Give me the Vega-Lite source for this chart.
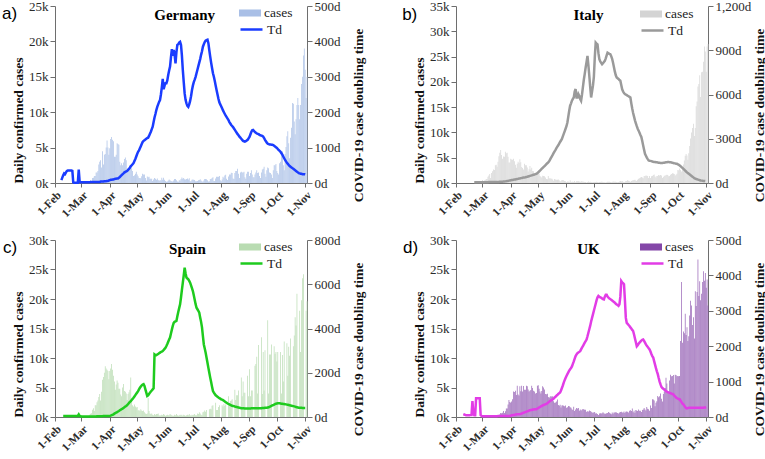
{
"$schema":"https://vega.github.io/schema/vega-lite/v6.json",
"padding":{"left":2,"top":0,"right":0,"bottom":0},
"columns":2,
"spacing":{"column":37,"row":14},
"resolve":{"scale":{"fill":"independent","stroke":"independent"}},
"config":{"view":{"stroke":null},"font":"Liberation Serif",
"axis":{"grid":false,"labelOverlap":false,"tickCount":50,"domainColor":"#6e6e6e","tickColor":"#6e6e6e","tickSize":5,"labelFont":"Liberation Serif","labelFontSize":13,"labelColor":"#2b2b2b","labelPadding":2,"titleFont":"Liberation Serif","titleFontSize":13.5,"titleFontWeight":"bold","titleColor":"#111"},
"axisX":{"labelAngle":-45,"labelFontWeight":"bold","labelFontSize":11.5,"tickSize":4},
"legend":{"labelFont":"Liberation Serif","labelFontSize":13.5,"labelColor":"#222"}},
"datasets":{
"de":[{"d":7,"t":8},{"d":8,"t":15},{"d":9,"t":22},{"d":10,"t":27},{"d":11,"t":25},{"d":12,"t":30},{"d":13,"t":34},{"d":14,"t":35},{"d":15,"t":35},{"d":16,"t":35},{"d":17,"t":35},{"d":18,"t":35},{"d":19,"t":34},{"d":20,"t":2},{"d":21,"t":1},{"d":22,"t":1},{"d":23,"t":1},{"d":24,"t":1},{"d":25,"t":1},{"d":26,"t":38},{"d":27,"t":3},{"d":28,"t":2},
{"d":29,"n":60,"t":2},{"d":30,"n":30,"t":2},{"d":31,"n":160,"t":2},{"d":32,"n":50,"t":2},{"d":33,"n":110,"t":2},{"d":34,"n":240,"t":2},{"d":35,"n":100,"t":2},{"d":36,"n":180,"t":2},{"d":37,"n":120,"t":2},{"d":38,"n":270,"t":2},{"d":39,"n":400,"t":3},{"d":40,"n":260,"t":3},{"d":41,"n":700,"t":3},{"d":42,"n":740,"t":3},{"d":43,"n":1000,"t":3},{"d":44,"n":1000,"t":3},{"d":45,"n":1500,"t":3},{"d":46,"n":1500,"t":3},{"d":47,"n":1700,"t":3},{"d":48,"n":2600,"t":3},{"d":49,"n":3000,"t":3},{"d":50,"n":3200,"t":4},{"d":51,"n":2200,"t":4},{"d":52,"n":4500,"t":4},{"d":53,"n":2600,"t":4},{"d":54,"n":4000,"t":5},{"d":55,"n":4100,"t":5},{"d":56,"n":5000,"t":5},{"d":57,"n":6000,"t":6},{"d":58,"n":5000,"t":6},{"d":59,"n":4000,"t":7},{"d":60,"n":4900,"t":8},{"d":61,"n":6200,"t":9},{"d":62,"n":6500,"t":9},{"d":63,"n":6100,"t":10},{"d":64,"n":5900,"t":10},{"d":65,"n":3700,"t":11},{"d":66,"n":3700,"t":12},{"d":67,"n":4000,"t":12},{"d":68,"n":5600,"t":13},{"d":69,"n":5500,"t":13},{"d":70,"n":5400,"t":15},{"d":71,"n":3000,"t":17},{"d":72,"n":2500,"t":20},{"d":73,"n":2800,"t":22},{"d":74,"n":2500,"t":25},{"d":75,"n":2900,"t":27},{"d":76,"n":3400,"t":30},{"d":77,"n":3600,"t":31},{"d":78,"n":3200,"t":33},{"d":79,"n":1700,"t":34},{"d":80,"n":1800,"t":37},{"d":81,"n":2200,"t":40},{"d":82,"n":2500,"t":43},{"d":83,"n":2400,"t":47},{"d":84,"n":2100,"t":50},{"d":85,"n":1700,"t":53},{"d":86,"n":1000,"t":56},{"d":87,"n":1100,"t":62},{"d":88,"n":1300,"t":68},{"d":89,"n":1600,"t":75},{"d":90,"n":1200,"t":82},{"d":91,"n":950,"t":88},{"d":92,"n":700,"t":92},{"d":93,"n":700,"t":98},{"d":94,"n":680,"t":104},{"d":95,"n":950,"t":110},{"d":96,"n":1300,"t":116},{"d":97,"n":1200,"t":119},{"d":98,"n":1200,"t":121},{"d":99,"n":700,"t":123},{"d":100,"n":350,"t":125},{"d":101,"n":930,"t":127},{"d":102,"n":800,"t":128},{"d":103,"n":900,"t":133},{"d":104,"n":600,"t":139},{"d":105,"n":600,"t":145},{"d":106,"n":600,"t":152},{"d":107,"n":300,"t":159},{"d":108,"n":500,"t":172},{"d":109,"n":700,"t":185},{"d":110,"n":600,"t":195},{"d":111,"n":460,"t":206},{"d":112,"n":630,"t":215},{"d":113,"n":430,"t":222},{"d":114,"n":290,"t":229},{"d":115,"n":430,"t":234},{"d":116,"n":360,"t":250},{"d":117,"n":750,"t":270},{"d":118,"n":470,"t":294},{"d":119,"n":740,"t":265},{"d":120,"n":460,"t":275},{"d":121,"n":290,"t":282},{"d":122,"n":180,"t":282},{"d":123,"n":210,"t":290},{"d":124,"n":340,"t":305},{"d":125,"n":500,"t":318},{"d":126,"n":400,"t":329},{"d":127,"n":300,"t":355},{"d":128,"n":250,"t":378},{"d":129,"n":200,"t":359},{"d":130,"n":350,"t":376},{"d":131,"n":550,"t":362},{"d":132,"n":550,"t":338},{"d":133,"n":400,"t":370},{"d":134,"n":200,"t":390},{"d":135,"n":180,"t":392},{"d":136,"n":380,"t":397},{"d":137,"n":340,"t":399},{"d":138,"n":580,"t":390},{"d":139,"n":770,"t":360},{"d":140,"n":600,"t":319},{"d":141,"n":690,"t":285},{"d":142,"n":540,"t":253},{"d":143,"n":500,"t":235},{"d":144,"n":580,"t":225},{"d":145,"n":630,"t":218},{"d":146,"n":480,"t":215},{"d":147,"n":680,"t":222},{"d":148,"n":260,"t":232},{"d":149,"n":260,"t":245},{"d":150,"n":470,"t":262},{"d":151,"n":500,"t":275},{"d":152,"n":450,"t":285},{"d":153,"n":420,"t":292},{"d":154,"n":240,"t":300},{"d":155,"n":230,"t":310},{"d":156,"n":300,"t":320},{"d":157,"n":400,"t":330},{"d":158,"n":440,"t":340},{"d":159,"n":530,"t":350},{"d":160,"n":370,"t":362},{"d":161,"n":250,"t":372},{"d":162,"n":160,"t":385},{"d":163,"n":350,"t":392},{"d":164,"n":550,"t":398},{"d":165,"n":580,"t":402},{"d":166,"n":530,"t":404},{"d":167,"n":400,"t":405},{"d":168,"n":210,"t":395},{"d":169,"n":250,"t":375},{"d":170,"n":550,"t":357},{"d":171,"n":580,"t":340},{"d":172,"n":700,"t":325},{"d":173,"n":800,"t":310},{"d":174,"n":300,"t":300},{"d":175,"n":300,"t":288},{"d":176,"n":630,"t":275},{"d":177,"n":900,"t":262},{"d":178,"n":900,"t":250},{"d":179,"n":900,"t":238},{"d":180,"n":1000,"t":228},{"d":181,"n":380,"t":222},{"d":182,"n":250,"t":217},{"d":183,"n":500,"t":211},{"d":184,"n":900,"t":205},{"d":185,"n":740,"t":200},{"d":186,"n":1050,"t":195},{"d":187,"n":1150,"t":190},{"d":188,"n":600,"t":186},{"d":189,"n":440,"t":182},{"d":190,"n":930,"t":178},{"d":191,"n":1200,"t":172},{"d":192,"n":1200,"t":168},{"d":193,"n":1450,"t":164},{"d":194,"n":1400,"t":161},{"d":195,"n":630,"t":158},{"d":196,"n":560,"t":154},{"d":197,"n":1400,"t":150},{"d":198,"n":1700,"t":146},{"d":199,"n":1700,"t":142},{"d":200,"n":2000,"t":138},{"d":201,"n":1300,"t":135},{"d":202,"n":700,"t":131},{"d":203,"n":1500,"t":128},{"d":204,"n":1600,"t":125},{"d":205,"n":1500,"t":122},{"d":206,"n":1500,"t":119},{"d":207,"n":1600,"t":118},{"d":208,"n":800,"t":117},{"d":209,"n":600,"t":118},{"d":210,"n":1300,"t":120},{"d":211,"n":1600,"t":122},{"d":212,"n":1600,"t":126},{"d":213,"n":1000,"t":130},{"d":214,"n":1400,"t":137},{"d":215,"n":1800,"t":144},{"d":216,"n":1200,"t":149},{"d":217,"n":800,"t":150},{"d":218,"n":800,"t":147},{"d":219,"n":1200,"t":144},{"d":220,"n":1500,"t":142},{"d":221,"n":1800,"t":140},{"d":222,"n":1400,"t":139},{"d":223,"n":1500,"t":138},{"d":224,"n":1000,"t":136},{"d":225,"n":700,"t":135},{"d":226,"n":1500,"t":134},{"d":227,"n":1900,"t":133},{"d":228,"n":2000,"t":131},{"d":229,"n":2300,"t":127},{"d":230,"n":1300,"t":122},{"d":231,"n":900,"t":118},{"d":232,"n":1800,"t":114},{"d":233,"n":2200,"t":111},{"d":234,"n":2100,"t":110},{"d":235,"n":1500,"t":109},{"d":236,"n":1400,"t":109},{"d":237,"n":1200,"t":108},{"d":238,"n":700,"t":108},{"d":239,"n":1800,"t":107},{"d":240,"n":2500,"t":105},{"d":241,"n":2500,"t":103},{"d":242,"n":2700,"t":101},{"d":243,"n":1700,"t":99},{"d":244,"n":1400,"t":96},{"d":245,"n":1200,"t":93},{"d":246,"n":2800,"t":91},{"d":247,"n":3000,"t":88},{"d":248,"n":4000,"t":84},{"d":249,"n":4500,"t":80},{"d":250,"n":2500,"t":75},{"d":251,"n":1800,"t":70},{"d":252,"n":4100,"t":65},{"d":253,"n":5100,"t":61},{"d":254,"n":6600,"t":57},{"d":255,"n":7300,"t":54},{"d":256,"n":5600,"t":51},{"d":257,"n":3500,"t":48},{"d":258,"n":6400,"t":46},{"d":259,"n":7800,"t":44},{"d":260,"n":11300,"t":42},{"d":261,"n":11200,"t":40},{"d":262,"n":8700,"t":38},{"d":263,"n":6900,"t":36},{"d":264,"n":9000,"t":34},{"d":265,"n":11000,"t":32},{"d":266,"n":12000,"t":30},{"d":267,"n":11000,"t":28},{"d":268,"n":9000,"t":27},{"d":269,"n":11000,"t":26},{"d":270,"n":14000,"t":26},{"d":271,"n":15000,"t":25},{"d":272,"n":18000,"t":25},{"d":273,"n":19000,"t":25},{"d":274,"n":16000,"t":24},{"d":275,"n":12000},{"d":276,"n":15000}],
"it":[{"d":20,"n":20,"t":5},{"d":21,"n":60,"t":5},{"d":22,"n":80,"t":5},{"d":23,"n":60,"t":5},{"d":24,"n":80,"t":5},{"d":25,"n":90,"t":5},{"d":26,"n":120,"t":5},{"d":27,"n":240,"t":5},{"d":28,"n":240,"t":5},{"d":29,"n":570,"t":5},{"d":30,"n":340,"t":5},{"d":31,"n":470,"t":5},{"d":32,"n":590,"t":5},{"d":33,"n":770,"t":5},{"d":34,"n":780,"t":5},{"d":35,"n":1250,"t":5},{"d":36,"n":1490,"t":6},{"d":37,"n":1800,"t":6},{"d":38,"n":980,"t":6},{"d":39,"n":2000,"t":6},{"d":40,"n":2300,"t":6},{"d":41,"n":2650,"t":6},{"d":42,"n":2550,"t":6},{"d":43,"n":3500,"t":6},{"d":44,"n":3600,"t":6},{"d":45,"n":3200,"t":6},{"d":46,"n":4200,"t":7},{"d":47,"n":5300,"t":7},{"d":48,"n":6000,"t":8},{"d":49,"n":6550,"t":8},{"d":50,"n":5550,"t":9},{"d":51,"n":4800,"t":9},{"d":52,"n":5250,"t":10},{"d":53,"n":5200,"t":10},{"d":54,"n":6200,"t":11},{"d":55,"n":5900,"t":12},{"d":56,"n":5970,"t":13},{"d":57,"n":5200,"t":14},{"d":58,"n":4050,"t":16},{"d":59,"n":4050,"t":17},{"d":60,"n":4780,"t":18},{"d":61,"n":4670,"t":20},{"d":62,"n":4590,"t":21},{"d":63,"n":4800,"t":22},{"d":64,"n":4300,"t":23},{"d":65,"n":3600,"t":24},{"d":66,"n":3040,"t":26},{"d":67,"n":3830,"t":27},{"d":68,"n":4200,"t":28},{"d":69,"n":3950,"t":30},{"d":70,"n":4700,"t":31},{"d":71,"n":4100,"t":33},{"d":72,"n":3150,"t":34},{"d":73,"n":2970,"t":36},{"d":74,"n":2670,"t":37},{"d":75,"n":3790,"t":38},{"d":76,"n":3490,"t":39},{"d":77,"n":3490,"t":41},{"d":78,"n":3050,"t":42},{"d":79,"n":2250,"t":44},{"d":80,"n":2730,"t":46},{"d":81,"n":3370,"t":48},{"d":82,"n":2650,"t":50},{"d":83,"n":3020,"t":52},{"d":84,"n":2360,"t":54},{"d":85,"n":2320,"t":56},{"d":86,"n":1740,"t":58},{"d":87,"n":2090,"t":60},{"d":88,"n":2090,"t":62},{"d":89,"n":1870,"t":66},{"d":90,"n":1960,"t":72},{"d":91,"n":1900,"t":78},{"d":92,"n":1390,"t":84},{"d":93,"n":1220,"t":90},{"d":94,"n":1080,"t":97},{"d":95,"n":1440,"t":103},{"d":96,"n":1400,"t":109},{"d":97,"n":1330,"t":115},{"d":98,"n":1080,"t":121},{"d":99,"n":800,"t":128},{"d":100,"n":740,"t":134},{"d":101,"n":1400,"t":140},{"d":102,"n":890,"t":148},{"d":103,"n":990,"t":158},{"d":104,"n":790,"t":170},{"d":105,"n":880,"t":181},{"d":106,"n":680,"t":192},{"d":107,"n":450,"t":204},{"d":108,"n":810,"t":215},{"d":109,"n":670,"t":225},{"d":110,"n":640,"t":236},{"d":111,"n":650,"t":246},{"d":112,"n":670,"t":256},{"d":113,"n":530,"t":267},{"d":114,"n":300,"t":278},{"d":115,"n":400,"t":288},{"d":116,"n":580,"t":299},{"d":117,"n":590,"t":316},{"d":118,"n":520,"t":333},{"d":119,"n":420,"t":350},{"d":120,"n":350,"t":368},{"d":121,"n":180,"t":385},{"d":122,"n":320,"t":410},{"d":123,"n":320,"t":450},{"d":124,"n":180,"t":490},{"d":125,"n":520,"t":524},{"d":126,"n":270,"t":540},{"d":127,"n":200,"t":558},{"d":128,"n":280,"t":570},{"d":129,"n":200,"t":580},{"d":130,"n":380,"t":620},{"d":131,"n":160,"t":637},{"d":132,"n":350,"t":580},{"d":133,"n":340,"t":580},{"d":134,"n":340,"t":603},{"d":135,"n":300,"t":590},{"d":136,"n":210,"t":570},{"d":137,"n":330,"t":558},{"d":138,"n":330,"t":600},{"d":139,"n":250,"t":650},{"d":140,"n":260,"t":700},{"d":141,"n":220,"t":740},{"d":142,"n":220,"t":783},{"d":143,"n":110,"t":820},{"d":144,"n":190,"t":862},{"d":145,"n":300,"t":800},{"d":146,"n":180,"t":727},{"d":147,"n":260,"t":650},{"d":148,"n":180,"t":580},{"d":149,"n":170,"t":620},{"d":150,"n":140,"t":660},{"d":151,"n":180,"t":720},{"d":152,"n":200,"t":850},{"d":153,"n":220,"t":952},{"d":154,"n":240,"t":945},{"d":155,"n":190,"t":940},{"d":156,"n":140,"t":880},{"d":157,"n":190,"t":839},{"d":158,"n":190,"t":825},{"d":159,"n":230,"t":815},{"d":160,"n":270,"t":805},{"d":161,"n":190,"t":812},{"d":162,"n":170,"t":820},{"d":163,"n":130,"t":828},{"d":164,"n":110,"t":845},{"d":165,"n":160,"t":865},{"d":166,"n":230,"t":884},{"d":167,"n":230,"t":880},{"d":168,"n":250,"t":876},{"d":169,"n":220,"t":873},{"d":170,"n":130,"t":860},{"d":171,"n":190,"t":842},{"d":172,"n":280,"t":815},{"d":173,"n":250,"t":785},{"d":174,"n":270,"t":755},{"d":175,"n":250,"t":730},{"d":176,"n":200,"t":715},{"d":177,"n":170,"t":710},{"d":178,"n":210,"t":705},{"d":179,"n":290,"t":698},{"d":180,"n":380,"t":693},{"d":181,"n":290,"t":665},{"d":182,"n":380,"t":635},{"d":183,"n":240,"t":620},{"d":184,"n":160,"t":610},{"d":185,"n":190,"t":603},{"d":186,"n":380,"t":600},{"d":187,"n":400,"t":596},{"d":188,"n":550,"t":592},{"d":189,"n":460,"t":588},{"d":190,"n":350,"t":584},{"d":191,"n":260,"t":580},{"d":192,"n":410,"t":540},{"d":193,"n":480,"t":505},{"d":194,"n":520,"t":475},{"d":195,"n":570,"t":450},{"d":196,"n":630,"t":425},{"d":197,"n":480,"t":405},{"d":198,"n":400,"t":385},{"d":199,"n":640,"t":368},{"d":200,"n":850,"t":355},{"d":201,"n":950,"t":340},{"d":202,"n":1070,"t":325},{"d":203,"n":1210,"t":312},{"d":204,"n":1070,"t":285},{"d":205,"n":950,"t":255},{"d":206,"n":1370,"t":225},{"d":207,"n":1400,"t":198},{"d":208,"n":1460,"t":185},{"d":209,"n":1440,"t":172},{"d":210,"n":1360,"t":162},{"d":211,"n":1000,"t":153},{"d":212,"n":1360,"t":151},{"d":213,"n":980,"t":150},{"d":214,"n":1330,"t":148},{"d":215,"n":1400,"t":146},{"d":216,"n":1600,"t":144},{"d":217,"n":1700,"t":143},{"d":218,"n":1300,"t":142},{"d":219,"n":1100,"t":141},{"d":220,"n":1400,"t":140},{"d":221,"n":1400,"t":139},{"d":222,"n":1600,"t":138},{"d":223,"n":1500,"t":137},{"d":224,"n":1600,"t":136},{"d":225,"n":1500,"t":135},{"d":226,"n":1000,"t":136},{"d":227,"n":1200,"t":137},{"d":228,"n":1450,"t":138},{"d":229,"n":1450,"t":139},{"d":230,"n":1600,"t":140},{"d":231,"n":1640,"t":141},{"d":232,"n":1590,"t":142},{"d":233,"n":1350,"t":142},{"d":234,"n":1390,"t":141},{"d":235,"n":1640,"t":140},{"d":236,"n":1790,"t":139},{"d":237,"n":1910,"t":137},{"d":238,"n":1870,"t":136},{"d":239,"n":1770,"t":134},{"d":240,"n":1490,"t":133},{"d":241,"n":1650,"t":131},{"d":242,"n":1850,"t":130},{"d":243,"n":2550,"t":127},{"d":244,"n":2500,"t":123},{"d":245,"n":2850,"t":118},{"d":246,"n":2580,"t":113},{"d":247,"n":2260,"t":108},{"d":248,"n":2680,"t":102},{"d":249,"n":3680,"t":96},{"d":250,"n":4460,"t":90},{"d":251,"n":5370,"t":84},{"d":252,"n":5720,"t":78},{"d":253,"n":5460,"t":72},{"d":254,"n":4620,"t":67},{"d":255,"n":5900,"t":63},{"d":256,"n":7330,"t":58},{"d":257,"n":8800,"t":53},{"d":258,"n":10000,"t":48},{"d":259,"n":10900,"t":43},{"d":260,"n":11700,"t":38},{"d":261,"n":9300,"t":33},{"d":262,"n":10900,"t":29},{"d":263,"n":15200,"t":27},{"d":264,"n":16100,"t":25},{"d":265,"n":19100,"t":23},{"d":266,"n":19600,"t":21},{"d":267,"n":21300,"t":19},{"d":268,"n":17000,"t":17},{"d":269,"n":21900,"t":16},{"d":270,"n":22000,"t":15},{"d":271,"n":24000,"t":14},{"d":272,"n":27000,"t":14},{"d":273,"n":26000,"t":13},{"d":274,"n":22000},{"d":275,"n":27000},{"d":276,"n":27500}],
"es":[{"d":9,"t":5},{"d":10,"t":5},{"d":11,"t":5},{"d":12,"t":5},{"d":13,"t":5},{"d":14,"t":5},{"d":15,"t":5},{"d":16,"t":5},{"d":17,"t":5},{"d":18,"t":5},{"d":19,"t":5},{"d":20,"t":5},{"d":21,"t":5},{"d":22,"t":5},{"d":23,"t":5},{"d":24,"t":5},{"d":25,"t":5},{"d":26,"t":12},{"d":27,"t":5},{"d":28,"t":3},
{"d":29,"n":40,"t":2},{"d":30,"n":30,"t":2},{"d":31,"n":50,"t":2},{"d":32,"n":60,"t":2},{"d":33,"n":80,"t":2},{"d":34,"n":120,"t":2},{"d":35,"n":150,"t":2},{"d":36,"n":180,"t":2},{"d":37,"n":230,"t":2},{"d":38,"n":400,"t":2},{"d":39,"n":550,"t":2},{"d":40,"n":650,"t":2},{"d":41,"n":1250,"t":2},{"d":42,"n":1500,"t":2},{"d":43,"n":1000,"t":2},{"d":44,"n":2000,"t":2},{"d":45,"n":2000,"t":2},{"d":46,"n":2500,"t":3},{"d":47,"n":2800,"t":3},{"d":48,"n":3400,"t":3},{"d":49,"n":3900,"t":3},{"d":50,"n":2800,"t":3},{"d":51,"n":4300,"t":3},{"d":52,"n":6300,"t":3},{"d":53,"n":6800,"t":4},{"d":54,"n":7500,"t":4},{"d":55,"n":8600,"t":4},{"d":56,"n":8200,"t":4},{"d":57,"n":8000,"t":4},{"d":58,"n":7800,"t":4},{"d":59,"n":6400,"t":4},{"d":60,"n":7800,"t":5},{"d":61,"n":8200,"t":6},{"d":62,"n":9000,"t":8},{"d":63,"n":8000,"t":10},{"d":64,"n":7000,"t":12},{"d":65,"n":6000,"t":15},{"d":66,"n":4600,"t":17},{"d":67,"n":5500,"t":20},{"d":68,"n":6200,"t":22},{"d":69,"n":5800,"t":25},{"d":70,"n":4800,"t":27},{"d":71,"n":4800,"t":30},{"d":72,"n":3800,"t":33},{"d":73,"n":3500,"t":36},{"d":74,"n":5000,"t":38},{"d":75,"n":5600,"t":41},{"d":76,"n":4400,"t":44},{"d":77,"n":4300,"t":47},{"d":78,"n":4000,"t":50},{"d":79,"n":2900,"t":54},{"d":80,"n":3900,"t":58},{"d":81,"n":4200,"t":63},{"d":82,"n":4600,"t":68},{"d":83,"n":6700,"t":72},{"d":84,"n":3000,"t":77},{"d":85,"n":2000,"t":82},{"d":86,"n":1800,"t":87},{"d":87,"n":2100,"t":93},{"d":88,"n":1800,"t":99},{"d":89,"n":1600,"t":105},{"d":90,"n":1700,"t":111},{"d":91,"n":1100,"t":117},{"d":92,"n":1200,"t":125},{"d":93,"n":1000,"t":132},{"d":94,"n":1300,"t":138},{"d":95,"n":1100,"t":143},{"d":96,"n":1000,"t":146},{"d":97,"n":1100,"t":148},{"d":98,"n":800,"t":140},{"d":99,"n":600,"t":125},{"d":100,"n":500,"t":110},{"d":101,"n":600,"t":95},{"d":102,"n":3200,"t":98},{"d":103,"n":1000,"t":104},{"d":104,"n":600,"t":110},{"d":105,"n":500,"t":115},{"d":106,"n":600,"t":120},{"d":107,"n":400,"t":125},{"d":108,"n":300,"t":130},{"d":109,"n":500,"t":283},{"d":110,"n":400,"t":280},{"d":111,"n":500,"t":279},{"d":112,"n":500,"t":282},{"d":113,"n":600,"t":285},{"d":114,"n":300,"t":288},{"d":115,"n":200,"t":291},{"d":116,"n":300,"t":294},{"d":117,"n":400,"t":296},{"d":118,"n":300,"t":298},{"d":119,"n":500,"t":303},{"d":120,"n":400,"t":308},{"d":121,"n":200,"t":313},{"d":122,"n":300,"t":321},{"d":123,"n":400,"t":330},{"d":124,"n":300,"t":340},{"d":125,"n":300,"t":350},{"d":126,"n":500,"t":359},{"d":127,"n":400,"t":377},{"d":128,"n":300,"t":395},{"d":129,"n":200,"t":412},{"d":130,"n":200,"t":425},{"d":131,"n":400,"t":430},{"d":132,"n":300,"t":432},{"d":133,"n":500,"t":434},{"d":134,"n":300,"t":455},{"d":135,"n":200,"t":475},{"d":136,"n":300,"t":492},{"d":137,"n":400,"t":509},{"d":138,"n":300,"t":540},{"d":139,"n":400,"t":575},{"d":140,"n":200,"t":607},{"d":141,"n":400,"t":640},{"d":142,"n":300,"t":675},{"d":143,"n":200,"t":650},{"d":144,"n":300,"t":630},{"d":145,"n":400,"t":626},{"d":146,"n":300,"t":622},{"d":147,"n":500,"t":615},{"d":148,"n":300,"t":607},{"d":149,"n":200,"t":595},{"d":150,"n":400,"t":582},{"d":151,"n":300,"t":569},{"d":152,"n":400,"t":550},{"d":153,"n":500,"t":530},{"d":154,"n":300,"t":510},{"d":155,"n":300,"t":494},{"d":156,"n":600,"t":487},{"d":157,"n":500,"t":480},{"d":158,"n":800,"t":472},{"d":159,"n":600,"t":450},{"d":160,"n":400,"t":430},{"d":161,"n":300,"t":405},{"d":162,"n":800,"t":365},{"d":163,"n":900,"t":328},{"d":164,"n":1100,"t":310},{"d":165,"n":900,"t":290},{"d":166,"n":1200,"t":268},{"d":167,"n":0,"t":245},{"d":168,"n":0,"t":222},{"d":169,"n":1300,"t":200},{"d":170,"n":1400,"t":178},{"d":171,"n":1300,"t":158},{"d":172,"n":1900,"t":137},{"d":173,"n":2000,"t":117},{"d":174,"n":0,"t":110},{"d":175,"n":0,"t":104},{"d":176,"n":2400,"t":98},{"d":177,"n":1200,"t":95},{"d":178,"n":1200,"t":91},{"d":179,"n":1700,"t":88},{"d":180,"n":2000,"t":85},{"d":181,"n":0,"t":83},{"d":182,"n":0,"t":80},{"d":183,"n":2000,"t":78},{"d":184,"n":1800,"t":76},{"d":185,"n":2200,"t":73},{"d":186,"n":1900,"t":70},{"d":187,"n":2100,"t":67},{"d":188,"n":0,"t":64},{"d":189,"n":0,"t":61},{"d":190,"n":3500,"t":59},{"d":191,"n":2000,"t":57},{"d":192,"n":2700,"t":55},{"d":193,"n":2800,"t":53},{"d":194,"n":3000,"t":51},{"d":195,"n":0,"t":50},{"d":196,"n":0,"t":49},{"d":197,"n":4600,"t":47},{"d":198,"n":2900,"t":46},{"d":199,"n":3700,"t":45},{"d":200,"n":3700,"t":44},{"d":201,"n":4500,"t":43},{"d":202,"n":0,"t":42},{"d":203,"n":0,"t":41},{"d":204,"n":6700,"t":40},{"d":205,"n":3500,"t":40},{"d":206,"n":6000,"t":39},{"d":207,"n":4100,"t":39},{"d":208,"n":4100,"t":38},{"d":209,"n":0,"t":38},{"d":210,"n":0,"t":38},{"d":211,"n":7000,"t":38},{"d":212,"n":3500,"t":38},{"d":213,"n":8100,"t":38},{"d":214,"n":3500,"t":38},{"d":215,"n":4500,"t":39},{"d":216,"n":4500,"t":39},{"d":217,"n":0,"t":39},{"d":218,"n":0,"t":39},{"d":219,"n":8700,"t":39},{"d":220,"n":9000,"t":39},{"d":221,"n":10200,"t":39},{"d":222,"n":4000,"t":39},{"d":223,"n":12200,"t":40},{"d":224,"n":0,"t":40},{"d":225,"n":0,"t":40},{"d":226,"n":13500,"t":40},{"d":227,"n":3900,"t":41},{"d":228,"n":11000,"t":41},{"d":229,"n":4500,"t":41},{"d":230,"n":11300,"t":42},{"d":231,"n":0,"t":42},{"d":232,"n":0,"t":42},{"d":233,"n":16400,"t":43},{"d":234,"n":4000,"t":44},{"d":235,"n":10600,"t":46},{"d":236,"n":10600,"t":48},{"d":237,"n":12300,"t":50},{"d":238,"n":0,"t":52},{"d":239,"n":0,"t":54},{"d":240,"n":12000,"t":56},{"d":241,"n":10700,"t":58},{"d":242,"n":11000,"t":60},{"d":243,"n":9400,"t":61},{"d":244,"n":11000,"t":62},{"d":245,"n":0,"t":62},{"d":246,"n":0,"t":62},{"d":247,"n":11000,"t":61},{"d":248,"n":4000,"t":60},{"d":249,"n":10500,"t":60},{"d":250,"n":6000,"t":59},{"d":251,"n":12800,"t":59},{"d":252,"n":0,"t":58},{"d":253,"n":0,"t":57},{"d":254,"n":12500,"t":56},{"d":255,"n":7000,"t":55},{"d":256,"n":11900,"t":54},{"d":257,"n":10400,"t":53},{"d":258,"n":13300,"t":52},{"d":259,"n":0,"t":51},{"d":260,"n":0,"t":50},{"d":261,"n":12000,"t":49},{"d":262,"n":13800,"t":48},{"d":263,"n":16900,"t":47},{"d":264,"n":15500,"t":45},{"d":265,"n":20900,"t":44},{"d":266,"n":0,"t":43},{"d":267,"n":0,"t":42},{"d":268,"n":18000,"t":42},{"d":269,"n":11000,"t":42},{"d":270,"n":19800,"t":42},{"d":271,"n":23500,"t":41},{"d":272,"n":24200,"t":41},{"d":273,"n":0,"t":41},{"d":274,"n":0,"t":41},{"d":275,"n":18000},{"d":276,"n":19600}],
"uk":[{"d":8,"t":8},{"d":9,"t":7},{"d":10,"t":6},{"d":11,"t":5},{"d":12,"t":5},{"d":13,"t":5},{"d":14,"t":5},{"d":15,"t":5},{"d":16,"t":6},{"d":17,"t":6},{"d":18,"t":45},{"d":19,"t":10},{"d":20,"t":5},{"d":21,"t":5},{"d":22,"t":53},{"d":23,"t":53},{"d":24,"t":53},{"d":25,"t":53},{"d":26,"t":53},{"d":27,"t":5},{"d":28,"t":3},
{"d":29,"n":12,"t":2},{"d":30,"n":13,"t":2},{"d":31,"n":4,"t":2},{"d":32,"n":11,"t":2},{"d":33,"n":34,"t":2},{"d":34,"n":30,"t":2},{"d":35,"n":48,"t":2},{"d":36,"n":43,"t":2},{"d":37,"n":67,"t":2},{"d":38,"n":48,"t":2},{"d":39,"n":61,"t":2},{"d":40,"n":74,"t":2},{"d":41,"n":60,"t":2},{"d":42,"n":83,"t":2},{"d":43,"n":130,"t":2},{"d":44,"n":208,"t":2},{"d":45,"n":342,"t":2},{"d":46,"n":251,"t":3},{"d":47,"n":152,"t":3},{"d":48,"n":407,"t":3},{"d":49,"n":680,"t":3},{"d":50,"n":647,"t":3},{"d":51,"n":706,"t":3},{"d":52,"n":1035,"t":3},{"d":53,"n":665,"t":3},{"d":54,"n":967,"t":3},{"d":55,"n":1427,"t":3},{"d":56,"n":1452,"t":3},{"d":57,"n":2129,"t":3},{"d":58,"n":2885,"t":3},{"d":59,"n":2546,"t":3},{"d":60,"n":2433,"t":4},{"d":61,"n":2619,"t":5},{"d":62,"n":3009,"t":5},{"d":63,"n":4324,"t":6},{"d":64,"n":4244,"t":6},{"d":65,"n":4450,"t":7},{"d":66,"n":3735,"t":7},{"d":67,"n":5300,"t":8},{"d":68,"n":3802,"t":8},{"d":69,"n":3634,"t":8},{"d":70,"n":5195,"t":8},{"d":71,"n":4344,"t":9},{"d":72,"n":5288,"t":10},{"d":73,"n":4342,"t":11},{"d":74,"n":5252,"t":12},{"d":75,"n":4603,"t":13},{"d":76,"n":4617,"t":14},{"d":77,"n":5300,"t":15},{"d":78,"n":5200,"t":16},{"d":79,"n":4676,"t":17},{"d":80,"n":4301,"t":18},{"d":81,"n":4451,"t":19},{"d":82,"n":4583,"t":20},{"d":83,"n":5300,"t":20},{"d":84,"n":4913,"t":21},{"d":85,"n":4463,"t":21},{"d":86,"n":4309,"t":22},{"d":87,"n":3996,"t":22},{"d":88,"n":4076,"t":22},{"d":89,"n":5300,"t":24},{"d":90,"n":5400,"t":25},{"d":91,"n":4806,"t":27},{"d":92,"n":4339,"t":28},{"d":93,"n":3985,"t":30},{"d":94,"n":4406,"t":31},{"d":95,"n":5200,"t":33},{"d":96,"n":5000,"t":34},{"d":97,"n":4649,"t":35},{"d":98,"n":3896,"t":36},{"d":99,"n":3877,"t":37},{"d":100,"n":3923,"t":39},{"d":101,"n":3403,"t":41},{"d":102,"n":3242,"t":43},{"d":103,"n":3446,"t":45},{"d":104,"n":3560,"t":47},{"d":105,"n":3450,"t":48},{"d":106,"n":3534,"t":50},{"d":107,"n":2684,"t":52},{"d":108,"n":2412,"t":55},{"d":109,"n":2472,"t":57},{"d":110,"n":2615,"t":60},{"d":111,"n":2959,"t":62},{"d":112,"n":2013,"t":65},{"d":113,"n":1887,"t":67},{"d":114,"n":2095,"t":69},{"d":115,"n":1625,"t":75},{"d":116,"n":1936,"t":82},{"d":117,"n":2004,"t":89},{"d":118,"n":1887,"t":97},{"d":119,"n":1805,"t":104},{"d":120,"n":1936,"t":110},{"d":121,"n":1570,"t":116},{"d":122,"n":1653,"t":121},{"d":123,"n":1871,"t":126},{"d":124,"n":1805,"t":131},{"d":125,"n":1650,"t":135},{"d":126,"n":1557,"t":138},{"d":127,"n":1326,"t":143},{"d":128,"n":1205,"t":150},{"d":129,"n":1741,"t":157},{"d":130,"n":1003,"t":165},{"d":131,"n":1266,"t":172},{"d":132,"n":1541,"t":177},{"d":133,"n":1425,"t":180},{"d":134,"n":1514,"t":182},{"d":135,"n":1056,"t":184},{"d":136,"n":1279,"t":186},{"d":137,"n":1115,"t":191},{"d":138,"n":1221,"t":196},{"d":139,"n":1346,"t":200},{"d":140,"n":1295,"t":205},{"d":141,"n":1218,"t":210},{"d":142,"n":1221,"t":214},{"d":143,"n":874,"t":219},{"d":144,"n":958,"t":228},{"d":145,"n":921,"t":238},{"d":146,"n":1118,"t":248},{"d":147,"n":1006,"t":258},{"d":148,"n":890,"t":270},{"d":149,"n":815,"t":280},{"d":150,"n":689,"t":290},{"d":151,"n":814,"t":300},{"d":152,"n":829,"t":310},{"d":153,"n":576,"t":320},{"d":154,"n":624,"t":330},{"d":155,"n":516,"t":338},{"d":156,"n":352,"t":342},{"d":157,"n":581,"t":340},{"d":158,"n":630,"t":338},{"d":159,"n":612,"t":337},{"d":160,"n":650,"t":335},{"d":161,"n":820,"t":333},{"d":162,"n":650,"t":332},{"d":163,"n":530,"t":340},{"d":164,"n":538,"t":345},{"d":165,"n":642,"t":345},{"d":166,"n":687,"t":340},{"d":167,"n":827,"t":337},{"d":168,"n":726,"t":335},{"d":169,"n":580,"t":333},{"d":170,"n":445,"t":331},{"d":171,"n":768,"t":329},{"d":172,"n":560,"t":327},{"d":173,"n":769,"t":325},{"d":174,"n":767,"t":323},{"d":175,"n":798,"t":320},{"d":176,"n":747,"t":318},{"d":177,"n":685,"t":316},{"d":178,"n":581,"t":314},{"d":179,"n":763,"t":318},{"d":180,"n":846,"t":340},{"d":181,"n":880,"t":384},{"d":182,"n":771,"t":380},{"d":183,"n":744,"t":378},{"d":184,"n":938,"t":375},{"d":185,"n":670,"t":330},{"d":186,"n":892,"t":280},{"d":187,"n":950,"t":266},{"d":188,"n":871,"t":263},{"d":189,"n":758,"t":260},{"d":190,"n":1062,"t":257},{"d":191,"n":1148,"t":253},{"d":192,"n":1009,"t":250},{"d":193,"n":1441,"t":246},{"d":194,"n":812,"t":243},{"d":195,"n":1040,"t":233},{"d":196,"n":713,"t":222},{"d":197,"n":1182,"t":211},{"d":198,"n":1089,"t":200},{"d":199,"n":1033,"t":203},{"d":200,"n":1288,"t":207},{"d":201,"n":1041,"t":210},{"d":202,"n":1048,"t":213},{"d":203,"n":853,"t":216},{"d":204,"n":1184,"t":218},{"d":205,"n":1276,"t":219},{"d":206,"n":1522,"t":215},{"d":207,"n":1276,"t":210},{"d":208,"n":1108,"t":205},{"d":209,"n":1715,"t":201},{"d":210,"n":1406,"t":198},{"d":211,"n":1295,"t":194},{"d":212,"n":1041,"t":191},{"d":213,"n":1940,"t":185},{"d":214,"n":1508,"t":178},{"d":215,"n":2988,"t":172},{"d":216,"n":2948,"t":168},{"d":217,"n":2813,"t":158},{"d":218,"n":1813,"t":148},{"d":219,"n":2420,"t":138},{"d":220,"n":2659,"t":129},{"d":221,"n":3539,"t":121},{"d":222,"n":3330,"t":110},{"d":223,"n":3497,"t":100},{"d":224,"n":3991,"t":92},{"d":225,"n":3105,"t":85},{"d":226,"n":2621,"t":82},{"d":227,"n":3899,"t":80},{"d":228,"n":4322,"t":78},{"d":229,"n":4926,"t":75},{"d":230,"n":6634,"t":73},{"d":231,"n":5693,"t":72},{"d":232,"n":4368,"t":70},{"d":233,"n":4044,"t":69},{"d":234,"n":6178,"t":68},{"d":235,"n":7143,"t":67},{"d":236,"n":6914,"t":66},{"d":237,"n":6968,"t":65},{"d":238,"n":7108,"t":64},{"d":239,"n":5693,"t":60},{"d":240,"n":7143,"t":58},{"d":241,"n":7108,"t":55},{"d":242,"n":6914,"t":53},{"d":243,"n":6968,"t":52},{"d":244,"n":6900,"t":50},{"d":245,"n":6950,"t":50},{"d":246,"n":12900,"t":46},{"d":247,"n":22900,"t":42},{"d":248,"n":12600,"t":38},{"d":249,"n":14500,"t":36},{"d":250,"n":14200,"t":32},{"d":251,"n":17500,"t":28},{"d":252,"n":13900,"t":25},{"d":253,"n":15200,"t":24},{"d":254,"n":12900,"t":25},{"d":255,"n":13700,"t":26},{"d":256,"n":17200,"t":26},{"d":257,"n":19700,"t":26},{"d":258,"n":18900,"t":26},{"d":259,"n":15600,"t":26},{"d":260,"n":16900,"t":26},{"d":261,"n":13300,"t":26},{"d":262,"n":21300,"t":26},{"d":263,"n":18800,"t":26},{"d":264,"n":21200,"t":26},{"d":265,"n":26700,"t":26},{"d":266,"n":20500,"t":26},{"d":267,"n":23000,"t":26},{"d":268,"n":19800,"t":26},{"d":269,"n":20900,"t":26},{"d":270,"n":22900,"t":26},{"d":271,"n":24700,"t":26},{"d":272,"n":23100,"t":27},{"d":273,"n":24400,"t":27},{"d":274,"n":21900,"t":28},{"d":275,"n":23300},{"d":276,"n":18900}]
},
"concat":[
{"width":252,"height":177,"data":{"name":"de"},"resolve":{"scale":{"y":"independent"}},"layer":[
 {"layer":[
  {"mark":{"type":"bar","orient":"vertical","size":0.7},"encoding":{
   "x":{"field":"d","type":"quantitative","scale":{"domain":[0,276],"nice":false,"padding":0},"axis":{"title":null,"tickCount":50,"labelOverlap":false,"values":[0,29,60,90,121,151,182,213,243,274],"labelExpr":"['1-Feb','1-Mar','1-Apr','1-May','1-Jun','1-Jul','1-Aug','1-Sep','1-Oct','1-Nov'][indexof([0,29,60,90,121,151,182,213,243,274],datum.value)]"}},
   "y":{"field":"n","type":"quantitative","scale":{"domain":[0,25000],"nice":false},"axis":{"title":"Daily confirmed cases","tickCount":50,"labelOverlap":false,"titleY":114,"titleX":-30,"values":[0,5000,10000,15000,20000,25000],"labelExpr":"(datum.value/1000)+'k'"}},
   "fill":{"datum":"cases","type":"nominal","scale":{"range":["#a9bfe6"]},"legend":{"title":null,"orient":"none","legendX":184,"legendY":-4,"symbolType":"M-1,-0.32H1V0.32H-1Z","symbolSize":484,"symbolStrokeWidth":0,"labelOffset":3}}}},
  {"data":{"values":[{"lab":"a)"}]},"mark":{"type":"text","font":"Liberation Sans","fontSize":17,"align":"left","baseline":"middle"},"encoding":{"text":{"field":"lab"},"x":{"datum":-58,"type":"quantitative"},"y":{"datum":23870,"type":"quantitative"}}},
  {"data":{"values":[{"lab":"Germany"}]},"mark":{"type":"text","fontSize":15,"fontWeight":"bold","align":"center","baseline":"middle"},"encoding":{"text":{"field":"lab"},"x":{"datum":142,"type":"quantitative"},"y":{"datum":23700,"type":"quantitative"}}}
 ]},
 {"mark":{"type":"line","strokeWidth":2.5},"encoding":{
  "x":{"field":"d","type":"quantitative"},
  "y":{"field":"t","type":"quantitative","scale":{"domain":[0,500],"nice":false},"axis":{"orient":"right","tickCount":50,"labelOverlap":false,"title":"COVID-19 case doubling time","titleAngle":270,"titleBaseline":"top","titleX":44,"titleY":109,"values":[0,100,200,300,400,500],"labelExpr":"format(datum.value,',')+'d'"}},
  "stroke":{"datum":"Td","type":"nominal","scale":{"range":["#1a3cff"]},"legend":{"title":null,"orient":"none","legendX":184,"legendY":11,"symbolType":"stroke","symbolSize":484,"symbolStrokeWidth":2.5,"labelOffset":3}}}}
]},
{"width":252,"height":177,"data":{"name":"it"},"resolve":{"scale":{"y":"independent"}},"layer":[
 {"layer":[
  {"mark":{"type":"bar","orient":"vertical","size":0.7},"encoding":{
   "x":{"field":"d","type":"quantitative","scale":{"domain":[0,276],"nice":false,"padding":0},"axis":{"title":null,"tickCount":50,"labelOverlap":false,"values":[0,29,60,90,121,151,182,213,243,274],"labelExpr":"['1-Feb','1-Mar','1-Apr','1-May','1-Jun','1-Jul','1-Aug','1-Sep','1-Oct','1-Nov'][indexof([0,29,60,90,121,151,182,213,243,274],datum.value)]"}},
   "y":{"field":"n","type":"quantitative","scale":{"domain":[0,35000],"nice":false},"axis":{"title":"Daily confirmed cases","tickCount":50,"labelOverlap":false,"titleY":114,"titleX":-30,"values":[0,5000,10000,15000,20000,25000,30000,35000],"labelExpr":"(datum.value/1000)+'k'"}},
   "fill":{"datum":"cases","type":"nominal","scale":{"range":["#d4d4d4"]},"legend":{"title":null,"orient":"none","legendX":184,"legendY":-3,"symbolType":"M-1,-0.32H1V0.32H-1Z","symbolSize":484,"symbolStrokeWidth":0,"labelOffset":3}}}},
  {"data":{"values":[{"lab":"b)"}]},"mark":{"type":"text","font":"Liberation Sans","fontSize":17,"align":"left","baseline":"middle"},"encoding":{"text":{"field":"lab"},"x":{"datum":-59,"type":"quantitative"},"y":{"datum":33200,"type":"quantitative"}}},
  {"data":{"values":[{"lab":"Italy"}]},"mark":{"type":"text","fontSize":15,"fontWeight":"bold","align":"center","baseline":"middle"},"encoding":{"text":{"field":"lab"},"x":{"datum":145,"type":"quantitative"},"y":{"datum":33200,"type":"quantitative"}}}
 ]},
 {"mark":{"type":"line","strokeWidth":2.5},"encoding":{
  "x":{"field":"d","type":"quantitative"},
  "y":{"field":"t","type":"quantitative","scale":{"domain":[0,1200],"nice":false},"axis":{"orient":"right","tickCount":50,"labelOverlap":false,"title":"COVID-19 case doubling time","titleAngle":270,"titleBaseline":"top","titleX":44,"titleY":109,"values":[0,300,600,900,1200],"labelExpr":"format(datum.value,',')+'d'"}},
  "stroke":{"datum":"Td","type":"nominal","scale":{"range":["#9a9a9a"]},"legend":{"title":null,"orient":"none","legendX":184,"legendY":12,"symbolType":"stroke","symbolSize":484,"symbolStrokeWidth":2.5,"labelOffset":3}}}}
]},
{"width":252,"height":177,"data":{"name":"es"},"resolve":{"scale":{"y":"independent"}},"layer":[
 {"layer":[
  {"mark":{"type":"bar","orient":"vertical","size":0.7},"encoding":{
   "x":{"field":"d","type":"quantitative","scale":{"domain":[0,276],"nice":false,"padding":0},"axis":{"title":null,"tickCount":50,"labelOverlap":false,"values":[0,29,60,90,121,151,182,213,243,274],"labelExpr":"['1-Feb','1-Mar','1-Apr','1-May','1-Jun','1-Jul','1-Aug','1-Sep','1-Oct','1-Nov'][indexof([0,29,60,90,121,151,182,213,243,274],datum.value)]"}},
   "y":{"field":"n","type":"quantitative","scale":{"domain":[0,30000],"nice":false},"axis":{"title":"Daily confirmed cases","tickCount":50,"labelOverlap":false,"titleY":114,"titleX":-30,"values":[0,5000,10000,15000,20000,25000,30000],"labelExpr":"(datum.value/1000)+'k'"}},
   "fill":{"datum":"cases","type":"nominal","scale":{"range":["#b9dcb2"]},"legend":{"title":null,"orient":"none","legendX":184,"legendY":-4,"symbolType":"M-1,-0.32H1V0.32H-1Z","symbolSize":484,"symbolStrokeWidth":0,"labelOffset":3}}}},
  {"data":{"values":[{"lab":"c)"}]},"mark":{"type":"text","font":"Liberation Sans","fontSize":17,"align":"left","baseline":"middle"},"encoding":{"text":{"field":"lab"},"x":{"datum":-57,"type":"quantitative"},"y":{"datum":28640,"type":"quantitative"}}},
  {"data":{"values":[{"lab":"Spain"}]},"mark":{"type":"text","fontSize":15,"fontWeight":"bold","align":"center","baseline":"middle"},"encoding":{"text":{"field":"lab"},"x":{"datum":145,"type":"quantitative"},"y":{"datum":28500,"type":"quantitative"}}}
 ]},
 {"mark":{"type":"line","strokeWidth":2.5},"encoding":{
  "x":{"field":"d","type":"quantitative"},
  "y":{"field":"t","type":"quantitative","scale":{"domain":[0,800],"nice":false},"axis":{"orient":"right","tickCount":50,"labelOverlap":false,"title":"COVID-19 case doubling time","titleAngle":270,"titleBaseline":"top","titleX":44,"titleY":109,"values":[0,200,400,600,800],"labelExpr":"format(datum.value,',')+'d'"}},
  "stroke":{"datum":"Td","type":"nominal","scale":{"range":["#1ecb1e"]},"legend":{"title":null,"orient":"none","legendX":184,"legendY":11,"symbolType":"stroke","symbolSize":484,"symbolStrokeWidth":2.5,"labelOffset":3}}}}
]},
{"width":252,"height":177,"data":{"name":"uk"},"resolve":{"scale":{"y":"independent"}},"layer":[
 {"layer":[
  {"mark":{"type":"bar","orient":"vertical","size":0.6},"encoding":{
   "x":{"field":"d","type":"quantitative","scale":{"domain":[0,276],"nice":false,"padding":0},"axis":{"title":null,"tickCount":50,"labelOverlap":false,"values":[0,29,60,90,121,151,182,213,243,274],"labelExpr":"['1-Feb','1-Mar','1-Apr','1-May','1-Jun','1-Jul','1-Aug','1-Sep','1-Oct','1-Nov'][indexof([0,29,60,90,121,151,182,213,243,274],datum.value)]"}},
   "y":{"field":"n","type":"quantitative","scale":{"domain":[0,30000],"nice":false},"axis":{"title":"Daily confirmed cases","tickCount":50,"labelOverlap":false,"titleY":114,"titleX":-30,"values":[0,5000,10000,15000,20000,25000,30000],"labelExpr":"(datum.value/1000)+'k'"}},
   "fill":{"datum":"cases","type":"nominal","scale":{"range":["#8447a8"]},"legend":{"title":null,"orient":"none","legendX":184,"legendY":-4,"symbolType":"M-1,-0.32H1V0.32H-1Z","symbolSize":484,"symbolStrokeWidth":0,"labelOffset":3}}}},
  {"data":{"values":[{"lab":"d)"}]},"mark":{"type":"text","font":"Liberation Sans","fontSize":17,"align":"left","baseline":"middle"},"encoding":{"text":{"field":"lab"},"x":{"datum":-58,"type":"quantitative"},"y":{"datum":28640,"type":"quantitative"}}},
  {"data":{"values":[{"lab":"UK"}]},"mark":{"type":"text","fontSize":15,"fontWeight":"bold","align":"center","baseline":"middle"},"encoding":{"text":{"field":"lab"},"x":{"datum":145,"type":"quantitative"},"y":{"datum":28500,"type":"quantitative"}}}
 ]},
 {"mark":{"type":"line","strokeWidth":2.5},"encoding":{
  "x":{"field":"d","type":"quantitative"},
  "y":{"field":"t","type":"quantitative","scale":{"domain":[0,500],"nice":false},"axis":{"orient":"right","tickCount":50,"labelOverlap":false,"title":"COVID-19 case doubling time","titleAngle":270,"titleBaseline":"top","titleX":44,"titleY":109,"values":[0,100,200,300,400,500],"labelExpr":"format(datum.value,',')+'d'"}},
  "stroke":{"datum":"Td","type":"nominal","scale":{"range":["#e23ce6"]},"legend":{"title":null,"orient":"none","legendX":184,"legendY":11,"symbolType":"stroke","symbolSize":484,"symbolStrokeWidth":2.5,"labelOffset":3}}}}
]}
]
}
